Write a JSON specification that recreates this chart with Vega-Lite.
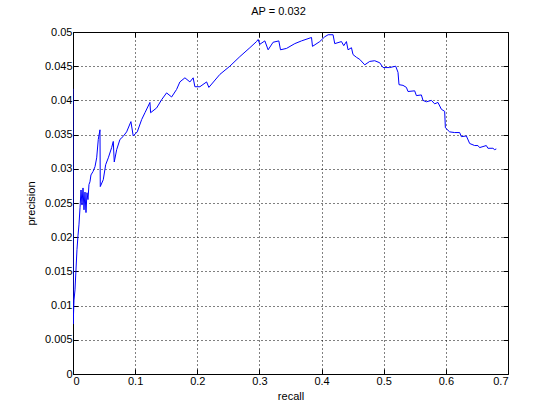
{
  "$schema": "https://vega.github.io/schema/vega-lite/v6.json",
  "width": 435,
  "height": 342,
  "autosize": {"type": "none"},
  "padding": {"left": 73, "top": 32, "right": 52, "bottom": 46},
  "background": "white",
  "title": {"text": "AP = 0.032", "font": "Liberation Sans", "fontSize": 11, "fontWeight": "normal", "color": "black", "offset": 9, "anchor": "middle", "frame": "group", "dx": -12},
  "config": {
    "view": {"stroke": "black", "strokeWidth": 1},
    "axis": {
      "labelFont": "Liberation Sans", "labelFontSize": 11, "labelColor": "black",
      "titleFont": "Liberation Sans", "titleFontSize": 11, "titleFontWeight": "normal", "titleColor": "black",
      "domain": false, "tickColor": "black", "tickSize": -5, "labelPadding": 6,
      "grid": true, "gridColor": "black", "gridDash": [1, 3], "gridOpacity": 1, "gridWidth": 1
    }
  },
  "data": {"values": [
    {"r": 0, "p": 0.0417},
    {"r": 0.0003, "p": 0.0073},
    {"r": 0.0016, "p": 0.0108},
    {"r": 0.0032, "p": 0.0123},
    {"r": 0.0048, "p": 0.0152},
    {"r": 0.0064, "p": 0.0182},
    {"r": 0.008, "p": 0.0202},
    {"r": 0.0096, "p": 0.0218},
    {"r": 0.0113, "p": 0.0243},
    {"r": 0.0129, "p": 0.0269},
    {"r": 0.0145, "p": 0.0247},
    {"r": 0.0161, "p": 0.0272},
    {"r": 0.0177, "p": 0.024},
    {"r": 0.0193, "p": 0.0266},
    {"r": 0.0209, "p": 0.0236},
    {"r": 0.0225, "p": 0.0265},
    {"r": 0.0241, "p": 0.0255},
    {"r": 0.0257, "p": 0.0277},
    {"r": 0.0273, "p": 0.0281},
    {"r": 0.0289, "p": 0.0291},
    {"r": 0.0322, "p": 0.0296},
    {"r": 0.0354, "p": 0.0303},
    {"r": 0.0381, "p": 0.0316},
    {"r": 0.0407, "p": 0.0343},
    {"r": 0.0434, "p": 0.0357},
    {"r": 0.0439, "p": 0.0274},
    {"r": 0.0487, "p": 0.0284},
    {"r": 0.0526, "p": 0.0306},
    {"r": 0.0568, "p": 0.0316},
    {"r": 0.0622, "p": 0.0331},
    {"r": 0.0648, "p": 0.034},
    {"r": 0.0664, "p": 0.031},
    {"r": 0.0703, "p": 0.0328},
    {"r": 0.0756, "p": 0.0343},
    {"r": 0.0804, "p": 0.0347},
    {"r": 0.0863, "p": 0.0354},
    {"r": 0.0932, "p": 0.0369},
    {"r": 0.0969, "p": 0.0348},
    {"r": 0.1034, "p": 0.0354},
    {"r": 0.1105, "p": 0.0372},
    {"r": 0.1158, "p": 0.0382},
    {"r": 0.1238, "p": 0.0397},
    {"r": 0.1249, "p": 0.0382},
    {"r": 0.1346, "p": 0.0389},
    {"r": 0.1426, "p": 0.0401},
    {"r": 0.1506, "p": 0.0411},
    {"r": 0.1587, "p": 0.0405},
    {"r": 0.1667, "p": 0.0416},
    {"r": 0.172, "p": 0.0427},
    {"r": 0.1801, "p": 0.0433},
    {"r": 0.1881, "p": 0.0427},
    {"r": 0.1934, "p": 0.0433},
    {"r": 0.1961, "p": 0.042},
    {"r": 0.2042, "p": 0.042},
    {"r": 0.215, "p": 0.0427},
    {"r": 0.2186, "p": 0.0419},
    {"r": 0.2363, "p": 0.0438},
    {"r": 0.2524, "p": 0.045},
    {"r": 0.2685, "p": 0.0464},
    {"r": 0.2846, "p": 0.0477},
    {"r": 0.2953, "p": 0.0486},
    {"r": 0.2979, "p": 0.0489},
    {"r": 0.3006, "p": 0.0482},
    {"r": 0.3087, "p": 0.0487},
    {"r": 0.314, "p": 0.0474},
    {"r": 0.322, "p": 0.0485},
    {"r": 0.3312, "p": 0.0487},
    {"r": 0.3339, "p": 0.0474},
    {"r": 0.3436, "p": 0.0476},
    {"r": 0.3569, "p": 0.0483},
    {"r": 0.3677, "p": 0.0487},
    {"r": 0.3838, "p": 0.0492},
    {"r": 0.3854, "p": 0.0479},
    {"r": 0.3971, "p": 0.0486},
    {"r": 0.4051, "p": 0.0493},
    {"r": 0.4105, "p": 0.0496},
    {"r": 0.4185, "p": 0.0496},
    {"r": 0.4212, "p": 0.0483},
    {"r": 0.432, "p": 0.0486},
    {"r": 0.4357, "p": 0.048},
    {"r": 0.44, "p": 0.0486},
    {"r": 0.4426, "p": 0.0474},
    {"r": 0.4481, "p": 0.0477},
    {"r": 0.4506, "p": 0.0467},
    {"r": 0.4561, "p": 0.0463},
    {"r": 0.4614, "p": 0.046},
    {"r": 0.4695, "p": 0.0452},
    {"r": 0.4775, "p": 0.0457},
    {"r": 0.4855, "p": 0.0458},
    {"r": 0.4936, "p": 0.0455},
    {"r": 0.4989, "p": 0.0448},
    {"r": 0.5096, "p": 0.0448},
    {"r": 0.5193, "p": 0.045},
    {"r": 0.523, "p": 0.0441},
    {"r": 0.5246, "p": 0.0423},
    {"r": 0.531, "p": 0.0422},
    {"r": 0.5365, "p": 0.0419},
    {"r": 0.5391, "p": 0.0413},
    {"r": 0.5498, "p": 0.0414},
    {"r": 0.5526, "p": 0.0407},
    {"r": 0.5606, "p": 0.0408},
    {"r": 0.5632, "p": 0.04},
    {"r": 0.5687, "p": 0.0398},
    {"r": 0.5767, "p": 0.04},
    {"r": 0.582, "p": 0.0395},
    {"r": 0.5873, "p": 0.0397},
    {"r": 0.5928, "p": 0.0387},
    {"r": 0.5981, "p": 0.0384},
    {"r": 0.5992, "p": 0.036},
    {"r": 0.6061, "p": 0.0354},
    {"r": 0.6141, "p": 0.0353},
    {"r": 0.6222, "p": 0.0353},
    {"r": 0.6249, "p": 0.0347},
    {"r": 0.633, "p": 0.0348},
    {"r": 0.6383, "p": 0.0337},
    {"r": 0.6463, "p": 0.0334},
    {"r": 0.6516, "p": 0.0334},
    {"r": 0.6543, "p": 0.0331},
    {"r": 0.6651, "p": 0.0334},
    {"r": 0.6677, "p": 0.033},
    {"r": 0.6757, "p": 0.033},
    {"r": 0.6785, "p": 0.0328},
    {"r": 0.6812, "p": 0.0329}
  ]},
  "layer": [
    {
      "mark": {"type": "line", "color": "#0000ff", "strokeWidth": 1, "interpolate": "linear", "clip": true},
      "encoding": {
        "x": {"field": "r", "type": "quantitative", "title": "recall",
              "scale": {"domain": [0, 0.7], "nice": false, "zero": false},
              "axis": {"values": [0, 0.1, 0.2, 0.3, 0.4, 0.5, 0.6, 0.7], "format": "~g", "titlePadding": 4}},
        "y": {"field": "p", "type": "quantitative", "title": "precision",
              "scale": {"domain": [0, 0.05], "nice": false, "zero": false},
              "axis": {"values": [0, 0.005, 0.01, 0.015, 0.02, 0.025, 0.03, 0.035, 0.04, 0.045, 0.05], "format": "~g", "titlePadding": 8}},
        "order": {"value": null}
      }
    },
    {
      "mark": {"type": "line", "opacity": 0},
      "encoding": {
        "x": {"field": "r", "type": "quantitative",
              "scale": {"domain": [0, 0.7], "nice": false, "zero": false},
              "axis": {"orient": "top", "values": [0, 0.1, 0.2, 0.3, 0.4, 0.5, 0.6, 0.7], "labels": false, "title": null, "grid": false}},
        "y": {"field": "p", "type": "quantitative",
              "scale": {"domain": [0, 0.05], "nice": false, "zero": false},
              "axis": {"orient": "right", "values": [0, 0.005, 0.01, 0.015, 0.02, 0.025, 0.03, 0.035, 0.04, 0.045, 0.05], "labels": false, "title": null, "grid": false}},
        "order": {"value": null}
      }
    }
  ],
  "resolve": {"axis": {"x": "independent", "y": "independent"}}
}
